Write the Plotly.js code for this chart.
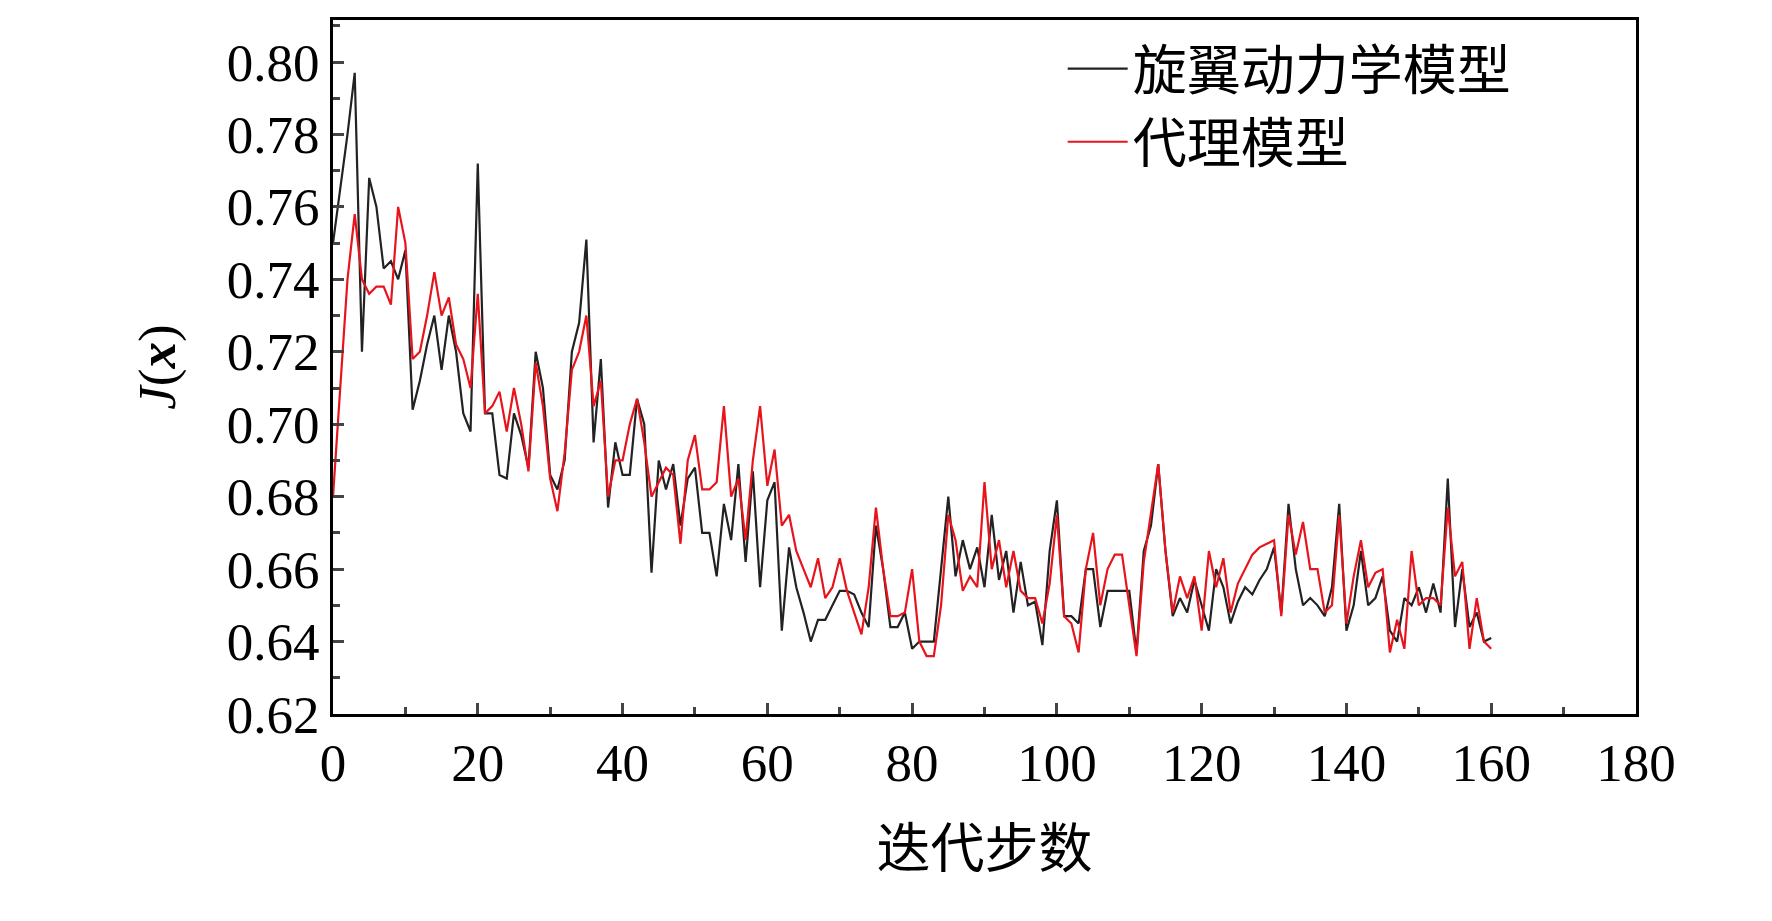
<!DOCTYPE html>
<html><head><meta charset="utf-8">
<script src="https://cdn.plot.ly/plotly-3.0.1.min.js"></script>
<style>body{margin:0;background:#fff}#c{width:1772px;height:921px}</style>
</head><body><div id="c"></div>
<script>
const steps = Array.from({length:161},(_,i)=>i);
const rotorModel = [0.75,0.765,0.78,0.797,0.72,0.768,0.76,0.743,0.745,0.74,0.748,0.704,0.712,0.722,0.73,0.715,0.73,0.72,0.703,0.698,0.772,0.703,0.703,0.686,0.685,0.703,0.697,0.688,0.72,0.71,0.686,0.682,0.69,0.72,0.728,0.751,0.695,0.718,0.677,0.695,0.686,0.686,0.707,0.70,0.659,0.69,0.682,0.689,0.672,0.685,0.688,0.67,0.67,0.658,0.678,0.668,0.689,0.662,0.687,0.655,0.679,0.684,0.643,0.666,0.655,0.648,0.64,0.646,0.646,0.65,0.654,0.654,0.653,0.648,0.644,0.672,0.66,0.644,0.644,0.648,0.638,0.64,0.64,0.64,0.66,0.68,0.658,0.668,0.66,0.666,0.655,0.675,0.657,0.665,0.648,0.662,0.65,0.651,0.639,0.665,0.679,0.647,0.647,0.645,0.66,0.66,0.644,0.654,0.654,0.654,0.654,0.637,0.665,0.672,0.689,0.665,0.647,0.652,0.648,0.657,0.65,0.643,0.66,0.655,0.645,0.651,0.655,0.653,0.657,0.66,0.666,0.648,0.678,0.66,0.65,0.652,0.65,0.647,0.655,0.678,0.643,0.65,0.665,0.65,0.652,0.658,0.643,0.64,0.652,0.65,0.655,0.648,0.656,0.648,0.685,0.644,0.66,0.644,0.648,0.64,0.641];
const surrogate = [0.68,0.71,0.74,0.758,0.74,0.736,0.738,0.738,0.733,0.76,0.75,0.718,0.72,0.73,0.742,0.73,0.735,0.722,0.718,0.71,0.736,0.703,0.705,0.709,0.698,0.71,0.7,0.687,0.717,0.705,0.685,0.676,0.692,0.715,0.72,0.73,0.705,0.712,0.68,0.69,0.69,0.70,0.707,0.695,0.68,0.684,0.688,0.686,0.667,0.69,0.697,0.682,0.682,0.684,0.705,0.68,0.685,0.668,0.69,0.705,0.683,0.693,0.672,0.675,0.665,0.66,0.655,0.663,0.652,0.655,0.663,0.654,0.648,0.642,0.655,0.677,0.66,0.647,0.647,0.648,0.66,0.64,0.636,0.636,0.65,0.675,0.668,0.654,0.658,0.655,0.684,0.66,0.668,0.655,0.665,0.654,0.652,0.652,0.645,0.656,0.675,0.647,0.645,0.637,0.66,0.67,0.65,0.66,0.664,0.664,0.65,0.636,0.662,0.676,0.689,0.665,0.648,0.658,0.652,0.658,0.643,0.665,0.655,0.663,0.648,0.656,0.66,0.664,0.666,0.667,0.668,0.647,0.675,0.664,0.673,0.66,0.66,0.648,0.65,0.675,0.645,0.658,0.668,0.655,0.659,0.66,0.637,0.646,0.638,0.665,0.65,0.652,0.652,0.65,0.677,0.658,0.662,0.638,0.652,0.64,0.638];
const seriesNames = ['旋翼动力学模型','代理模型'];
const font = '"Liberation Serif","Times New Roman","Noto Sans CJK SC",serif';
const cjk = '"Liberation Serif","Noto Sans CJK SC",serif';
Plotly.newPlot('c',[
 {x:steps,y:rotorModel,name:seriesNames[0],mode:'lines',line:{color:'#222',width:2.2}},
 {x:steps,y:surrogate,name:seriesNames[1],mode:'lines',line:{color:'#e8141c',width:2.2}}
],{
 width:1772,height:921,paper_bgcolor:'#fff',plot_bgcolor:'#fff',
 margin:{l:333,r:136,t:20,b:207},
 font:{family:font,color:'#000'},
 showlegend:true,
 legend:{x:0.56,y:0.99,xanchor:'left',yanchor:'top',font:{family:cjk,size:54},bgcolor:'rgba(0,0,0,0)',tracegroupgap:0,itemwidth:60},
 xaxis:{range:[0,180],tick0:0,dtick:20,ticks:'inside',ticklen:11,tickwidth:2.5,
  minor:{dtick:10,ticks:'inside',ticklen:7,tickwidth:2.5},
  showline:true,linewidth:3,linecolor:'#000',mirror:true,showgrid:false,zeroline:false,
  tickfont:{size:53,family:font},
  title:{text:'迭代步数',font:{size:54,family:cjk},standoff:40}},
 yaxis:{range:[0.62,0.8116],tick0:0.62,dtick:0.02,tickformat:'.2f',ticks:'inside',ticklen:11,tickwidth:2.5,
  minor:{dtick:0.01,ticks:'inside',ticklen:7,tickwidth:2.5},
  showline:true,linewidth:3,linecolor:'#000',mirror:true,showgrid:false,zeroline:false,
  tickfont:{size:53,family:font},
  title:{text:'<i>J</i>(<b><i>x</i></b>)',font:{size:53,family:font},standoff:35}}
},{displayModeBar:false});
</script></body></html>
